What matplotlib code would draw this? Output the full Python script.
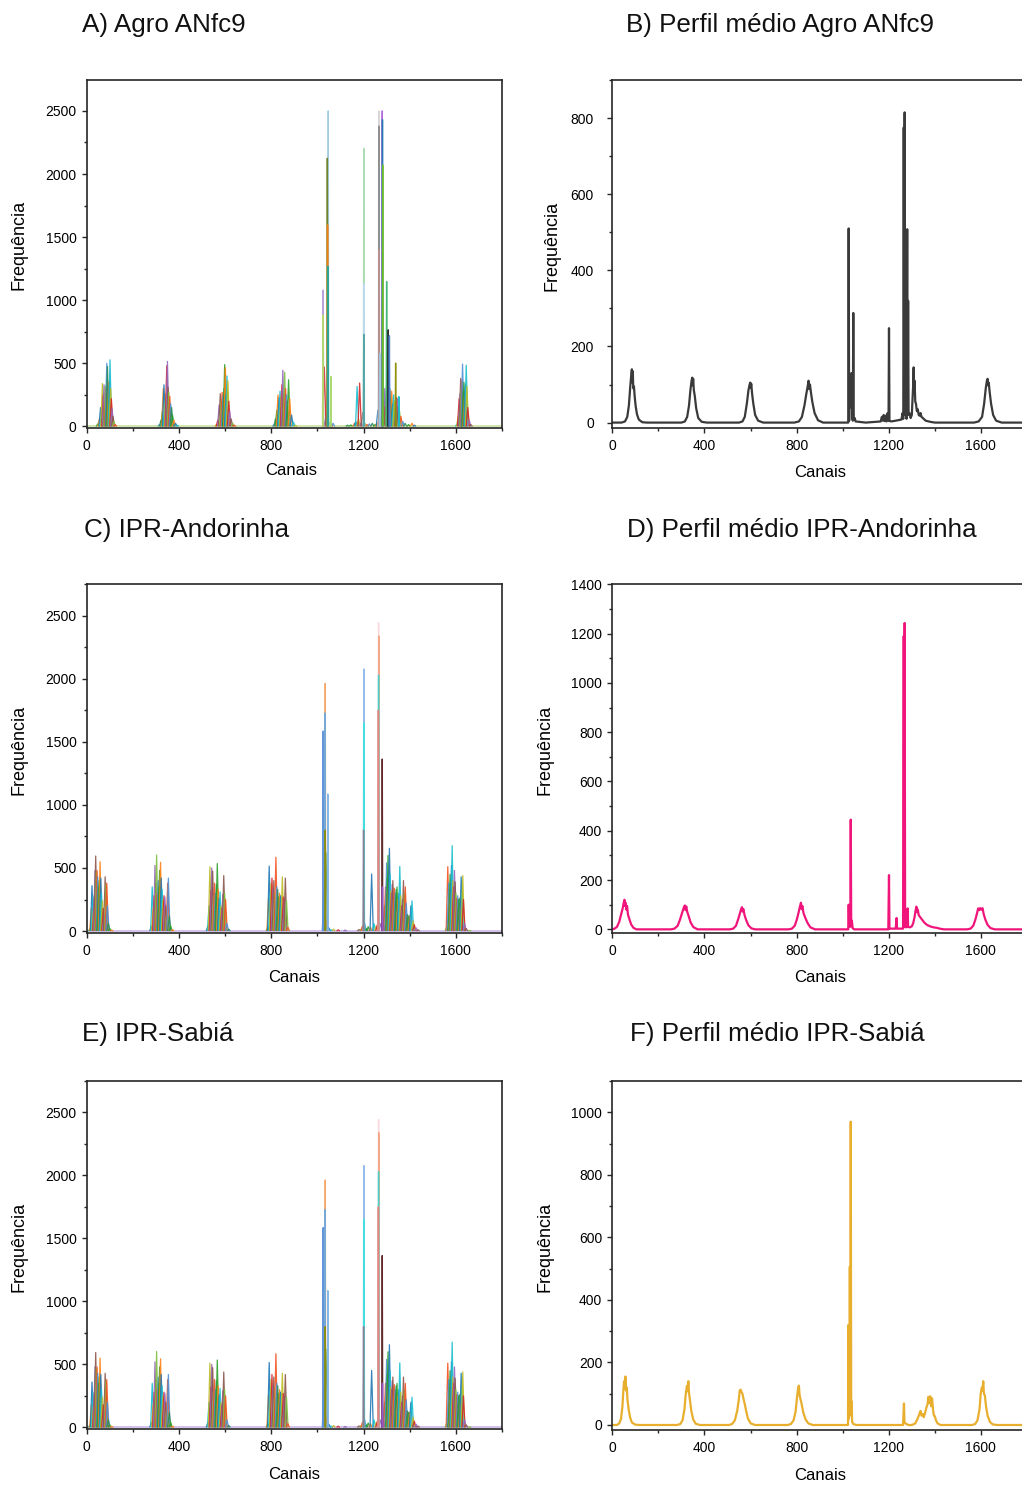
import matplotlib
matplotlib.use("Agg")
import matplotlib.pyplot as plt
from matplotlib.collections import LineCollection
from matplotlib.ticker import MultipleLocator

plt.rcParams["font.family"] = ["Liberation Sans", "DejaVu Sans"]

# ============================================================== Data
# (channel, frequency) spikes of the overlaid individual spectra

agro_spikes = [
    (48, 20), (55, 60), (60, 150), (64, 120), (68, 340), (72, 250), (75, 330), (78, 180),
    (81, 320), (84, 300), (87, 500), (90, 475), (93, 260), (96, 350), (99, 360), (101, 528),
    (104, 300), (107, 220), (110, 140), (114, 80), (118, 40), (124, 15),
    (315, 15), (322, 50), (328, 120), (332, 300), (335, 330), (339, 200), (343, 260), (347, 480),
    (350, 515), (353, 310), (356, 270), (360, 240), (364, 180), (368, 150), (372, 90), (378, 50),
    (385, 25), (392, 10),
    (562, 15), (568, 50), (574, 170), (579, 260), (583, 200), (587, 270), (591, 240), (595, 300),
    (598, 490), (601, 465), (604, 250), (608, 400), (612, 360), (616, 200), (620, 120), (626, 60),
    (633, 25), (640, 10),
    (812, 15), (818, 60), (824, 130), (829, 250), (834, 230), (838, 280), (842, 240), (846, 330),
    (850, 445), (854, 260), (858, 430), (862, 300), (866, 250), (870, 200), (875, 370), (880, 220),
    (888, 90), (896, 35), (905, 10),
    (1030, 470), (1035, 60), (1040, 100), (1052, 30), (1060, 15), (1068, 25), (1130, 10),
    (1145, 12), (1160, 25), (1166, 40), (1172, 317), (1178, 60), (1183, 344), (1190, 30),
    (1196, 110), (1206, 25), (1215, 15), (1225, 20), (1238, 25), (1250, 15), (1258, 30),
    (1262, 130), (1273, 60), (1277, 80), (1288, 200), (1292, 300), (1296, 150), (1303, 600),
    (1305, 250), (1309, 450), (1314, 300), (1318, 220), (1322, 280), (1326, 180), (1330, 250),
    (1334, 200), (1343, 230), (1347, 220), (1351, 160), (1356, 120), (1362, 80), (1370, 40),
    (1380, 25), (1395, 15), (1410, 25), (1420, 10),
    (1605, 20), (1610, 80), (1614, 220), (1618, 260), (1621, 380), (1624, 300), (1627, 370),
    (1629, 494), (1632, 280), (1635, 350), (1638, 240), (1641, 330), (1645, 485), (1648, 320),
    (1652, 150), (1658, 50), (1665, 15),
]
agro_tall = [
    (1025, 1080), (1024, 880), (1047, 2500), (1043, 2125), (1044, 1597), (1045, 1270),
    (1058, 396), (1201, 2204), (1202, 1130), (1201, 730), (1266, 2500), (1267, 2380),
    (1268, 1400), (1270, 580), (1281, 2500), (1282, 2430), (1283, 2072), (1300, 1148),
    (1307, 765), (1312, 718), (1339, 502), (1353, 236),
]

# IPR-Andorinha and IPR-Sabiá panels show the same overlaid spectra
ipr_spikes = [
    (15, 20), (20, 180), (23, 360), (27, 280), (30, 180), (33, 270), (36, 480), (39, 595),
    (42, 470), (45, 480), (48, 430), (51, 350), (54, 400), (58, 550), (61, 420), (64, 300),
    (68, 240), (72, 180), (76, 130), (80, 430), (84, 370), (87, 380), (90, 200), (94, 60),
    (100, 20), (108, 8),
    (280, 40), (284, 350), (288, 180), (292, 280), (296, 520), (300, 380), (303, 603), (306, 300),
    (310, 400), (313, 350), (316, 480), (320, 545), (323, 420), (327, 330), (331, 250), (335, 280),
    (339, 270), (343, 200), (347, 160), (351, 380), (354, 420), (358, 120), (364, 40), (372, 10),
    (525, 40), (530, 200), (534, 510), (538, 320), (542, 500), (546, 475), (550, 280), (554, 380),
    (558, 300), (562, 370), (566, 535), (570, 330), (574, 260), (578, 310), (582, 200), (586, 180),
    (590, 290), (594, 440), (598, 300), (602, 250), (608, 60), (616, 15),
    (785, 30), (788, 260), (791, 515), (795, 300), (799, 380), (803, 420), (807, 330), (811, 400),
    (815, 300), (820, 585), (824, 350), (828, 330), (832, 270), (836, 300), (840, 280), (844, 260),
    (848, 430), (852, 270), (857, 250), (861, 420), (866, 240), (872, 30),
    (1028, 320), (1031, 300), (1037, 620), (1040, 80), (1050, 25), (1060, 10), (1070, 15),
    (1090, 10), (1120, 8), (1180, 12), (1190, 15), (1195, 40), (1205, 60), (1212, 20),
    (1220, 35), (1230, 30), (1235, 452), (1245, 60), (1255, 40), (1260, 50), (1272, 60),
    (1285, 80), (1290, 200), (1295, 350), (1300, 540), (1303, 420), (1306, 600), (1309, 380),
    (1312, 656), (1315, 450), (1318, 320), (1321, 300), (1324, 370), (1327, 400), (1330, 250),
    (1333, 340), (1337, 300), (1341, 330), (1345, 350), (1349, 250), (1353, 300), (1357, 512),
    (1361, 280), (1365, 200), (1369, 250), (1373, 400), (1377, 300), (1381, 350), (1385, 220),
    (1390, 130), (1395, 120), (1400, 120), (1405, 200), (1410, 240), (1415, 80), (1420, 50),
    (1428, 25), (1436, 10),
    (1560, 30), (1565, 510), (1569, 380), (1572, 200), (1575, 450), (1578, 300), (1581, 520),
    (1584, 677), (1587, 400), (1590, 350), (1594, 480), (1597, 390), (1600, 300), (1604, 260),
    (1608, 280), (1612, 250), (1616, 260), (1620, 200), (1623, 430), (1627, 300), (1630, 440),
    (1633, 250), (1638, 60), (1645, 20), (1660, 5),
]
ipr_tall = [
    (1025, 1586), (1034, 1964), (1033, 1729), (1034, 800), (1045, 1086), (1201, 2078),
    (1202, 1650), (1200, 800), (1265, 2445), (1266, 2340), (1265, 2030), (1264, 1750),
    (1281, 1364), (1282, 350),
]

baseline_ch = [0, 1800]
baseline_val = [0, 0]

# mean profiles, (channel, frequency)
agro_mean = [
    (0, 0), (40, 0), (55, 3), (65, 15), (72, 45), (78, 95), (83, 130), (85, 140), (87, 105),
    (89, 135), (91, 90), (94, 95), (97, 70), (101, 45), (107, 22), (115, 8), (130, 1), (150, 0),
    (300, 0), (315, 3), (325, 15), (333, 45), (339, 85), (344, 110), (347, 118), (349, 98),
    (351, 115), (354, 85), (358, 70), (364, 38), (373, 12), (388, 2), (410, 0),
    (550, 0), (565, 3), (575, 15), (584, 50), (591, 85), (596, 100), (599, 105), (601, 92),
    (603, 102), (607, 75), (612, 50), (620, 20), (633, 5), (655, 0),
    (790, 0), (810, 3), (823, 15), (834, 45), (842, 75), (848, 95), (852, 110), (855, 88),
    (858, 100), (862, 80), (868, 55), (878, 25), (893, 6), (915, 0),
    (1018, 0), (1024, 0), (1026, 510), (1028, 5), (1030, 100), (1032, 60), (1034, 95),
    (1036, 40), (1038, 130), (1040, 95), (1042, 10), (1044, 5), (1046, 288), (1048, 8),
    (1052, 12), (1056, 3), (1070, 2), (1100, 0), (1140, 2), (1165, 3), (1170, 15), (1174, 5),
    (1178, 20), (1182, 4), (1186, 18), (1190, 3), (1195, 25), (1199, 5), (1201, 248),
    (1203, 5), (1210, 3), (1230, 5), (1255, 8), (1260, 25), (1263, 10), (1265, 775),
    (1267, 20), (1269, 815), (1271, 30), (1274, 25), (1277, 10), (1280, 508), (1282, 25),
    (1284, 320), (1286, 20), (1290, 25), (1295, 12), (1300, 20), (1303, 60), (1306, 100),
    (1308, 145), (1310, 80), (1312, 110), (1315, 55), (1318, 50), (1322, 30), (1326, 35),
    (1330, 20), (1334, 18), (1338, 25), (1342, 15), (1348, 12), (1360, 5), (1380, 2), (1400, 0),
    (1570, 0), (1590, 3), (1605, 15), (1614, 50), (1621, 90), (1626, 110), (1629, 115),
    (1631, 98), (1634, 105), (1638, 80), (1644, 50), (1653, 20), (1666, 5), (1690, 0), (1800, 0),
]
andorinha_mean = [
    (0, 0), (10, 3), (20, 10), (30, 30), (38, 60), (45, 85), (50, 110), (53, 120), (55, 95),
    (58, 108), (61, 80), (64, 95), (68, 60), (74, 42), (82, 20), (92, 6), (105, 0),
    (255, 0), (270, 3), (284, 15), (294, 40), (304, 70), (311, 90), (315, 97), (318, 78),
    (321, 93), (325, 72), (331, 55), (340, 28), (352, 9), (370, 0),
    (510, 0), (525, 3), (537, 15), (546, 40), (554, 65), (559, 82), (563, 90), (566, 72),
    (569, 82), (574, 58), (581, 38), (591, 16), (604, 4), (620, 0),
    (765, 0), (780, 3), (792, 15), (801, 40), (809, 70), (815, 95), (819, 108), (822, 82),
    (825, 95), (830, 66), (838, 46), (848, 25), (860, 8), (880, 0),
    (1015, 0), (1024, 0), (1026, 100), (1028, 20), (1030, 35), (1033, 10), (1035, 445),
    (1037, 20), (1040, 35), (1043, 5), (1050, 0), (1198, 0), (1201, 220), (1203, 3),
    (1230, 3), (1234, 46), (1236, 3), (1262, 3), (1265, 1190), (1267, 10), (1269, 1243),
    (1271, 12), (1275, 8), (1279, 15), (1282, 85), (1284, 10), (1290, 8), (1300, 12),
    (1306, 25), (1312, 50), (1316, 75), (1320, 92), (1323, 70), (1326, 80), (1330, 58),
    (1336, 50), (1344, 40), (1354, 28), (1366, 18), (1380, 12), (1395, 8), (1410, 6),
    (1420, 3), (1440, 0),
    (1540, 0), (1555, 3), (1567, 15), (1576, 40), (1583, 65), (1588, 85), (1593, 78),
    (1597, 86), (1602, 80), (1607, 86), (1612, 62), (1619, 40), (1629, 18), (1642, 5),
    (1660, 0), (1800, 0),
]
sabia_mean = [
    (0, 0), (20, 0), (30, 5), (38, 20), (44, 60), (48, 110), (51, 140), (54, 115), (57, 155),
    (60, 110), (63, 120), (66, 80), (71, 50), (77, 25), (85, 8), (100, 1), (120, 0),
    (280, 0), (295, 3), (305, 15), (313, 50), (319, 100), (324, 125), (327, 108), (330, 140),
    (333, 102), (337, 80), (343, 45), (351, 18), (362, 4), (380, 0),
    (505, 0), (520, 3), (532, 15), (542, 45), (549, 80), (553, 110), (557, 113), (561, 105),
    (565, 100), (569, 85), (574, 70), (581, 45), (589, 20), (601, 5), (620, 0),
    (760, 0), (775, 3), (787, 15), (796, 45), (802, 90), (807, 120), (810, 126), (813, 95),
    (816, 85), (821, 70), (829, 40), (839, 18), (851, 5), (870, 0),
    (1015, 0), (1023, 0), (1025, 320), (1027, 20), (1029, 60), (1031, 506), (1033, 80),
    (1035, 970), (1037, 30), (1039, 75), (1041, 10), (1046, 3), (1060, 0), (1262, 0),
    (1266, 69), (1268, 10), (1272, 5), (1285, 0),
    (1300, 0), (1315, 5), (1325, 20), (1333, 35), (1338, 45), (1342, 30), (1348, 35),
    (1352, 25), (1358, 40), (1363, 55), (1368, 65), (1372, 90), (1376, 70), (1380, 92),
    (1384, 60), (1388, 85), (1392, 50), (1396, 30), (1400, 28), (1405, 15), (1412, 5),
    (1425, 0),
    (1560, 0), (1575, 3), (1585, 15), (1594, 50), (1599, 100), (1604, 120), (1607, 110),
    (1610, 140), (1613, 100), (1617, 95), (1622, 60), (1629, 30), (1639, 10), (1651, 2),
    (1670, 0), (1800, 0),
]

titles = ["A) Agro ANfc9", "B) Perfil médio Agro ANfc9",
          "C) IPR-Andorinha", "D) Perfil médio IPR-Andorinha",
          "E) IPR-Sabiá", "F) Perfil médio IPR-Sabiá"]

# ============================================================== Style

PALETTE = ["#2ca02c", "#ff7f0e", "#1f77b4", "#17becf", "#bcbd22", "#d62728",
           "#9467bd", "#8c564b", "#7fbf3f", "#f4511e", "#4e8fd6", "#2e8b57"]
agro_tall_colors = ["#b39ddb", "#b5d96a", "#9ecae1", "#6b7f1f", "#ff7f0e", "#26a69a",
                    "#a6d96a", "#a8dbb0", "#bfd9f2", "#4fa3a5", "#d5d5d5", "#8c8c8c",
                    "#bc8f8f", "#9ecae1", "#b266e0", "#1f77b4", "#6cbf20", "#3cb371",
                    "#222222", "#4a7fd4", "#8b8b00", "#17becf"]
ipr_tall_colors = ["#5b8fd9", "#f4a261", "#6fa8dc", "#8b8b00", "#7fb3e6", "#8fb8ea",
                   "#40e0e0", "#8c7b8b", "#f8d7dc", "#f4a582", "#48d1cc", "#f08080",
                   "#5a1e1e", "#9b59d6"]
SPINE = "#262626"
HALF_W = 7      # half base width of a cluster spike, in channels
TALL_HALF_W = 2

W, H = 1022, 1486
fig = plt.figure(figsize=(W / 100, H / 100), dpi=100)


def px_axes(left, top, bottom, width_px):
    return fig.add_axes([left / W, 1 - bottom / H, width_px / W, (bottom - top) / H])


def style(ax, ylim, ymaj, ymin, ypad, ylab_x, xlab_y, xlab_x=0.5):
    ax.set_xlim(0, 1800)
    ax.set_ylim(*ylim)
    ax.xaxis.set_major_locator(MultipleLocator(400))
    ax.xaxis.set_minor_locator(MultipleLocator(200))
    ax.yaxis.set_major_locator(MultipleLocator(ymaj))
    ax.yaxis.set_minor_locator(MultipleLocator(ymin))
    ax.tick_params(which="both", direction="out", top=False, right=False,
                   color=SPINE, width=1.0)
    ax.tick_params(which="major", length=3.8, labelsize=10)
    ax.tick_params(which="minor", length=2.4)
    ax.tick_params(axis="y", which="major", pad=ypad)
    ax.tick_params(axis="x", which="major", pad=4)
    for s in ax.spines.values():
        s.set_color(SPINE)
        s.set_linewidth(1.2)
    ax.set_xlabel("Canais", fontsize=12)
    ax.set_ylabel("Frequência", fontsize=13, va="center")
    ax.xaxis.set_label_coords(xlab_x, xlab_y)
    ax.yaxis.set_label_coords(ylab_x, 0.525)
    ax.xaxis.label.set_va("center")


def spike_segments(spikes, hw):
    return [[(c - hw, 0), (c, h), (c + hw, 0)] for c, h in spikes]


def draw_overlay(ax, spikes, tall, tall_colors, base_color):
    ax.plot(baseline_ch, baseline_val, color=base_color, lw=1.2, zorder=1)
    cols = [PALETTE[i % len(PALETTE)] for i in range(len(spikes))]
    ax.add_collection(LineCollection(spike_segments(spikes, HALF_W), colors=cols,
                                     linewidths=0.9, alpha=0.9, zorder=2))
    ax.add_collection(LineCollection(spike_segments(tall, TALL_HALF_W), colors=tall_colors,
                                     linewidths=1.0, alpha=0.95, zorder=3))


def draw_mean(ax, profile, color):
    ch = [c for c, _ in profile]
    v = [x for _, x in profile]
    ax.plot(ch, v, color=color, lw=1.6, zorder=2)


# ============================================================== Panels

ax_a = px_axes(86.7, 80, 427.7, 415.3)
draw_overlay(ax_a, agro_spikes, agro_tall, agro_tall_colors, "#c9e3a0")
style(ax_a, (-10, 2745), 500, 250, 3.5, -0.162, -0.122, 0.492)

ax_b = px_axes(612.3, 80, 428.3, 414.7)
draw_mean(ax_b, agro_mean, "#3a3a3a")
style(ax_b, (-15, 900), 200, 100, 9.5, -0.145, -0.128)

ax_c = px_axes(86.7, 584.3, 933.3, 415.3)
draw_overlay(ax_c, ipr_spikes, ipr_tall, ipr_tall_colors, "#cbb8e6")
style(ax_c, (-18, 2750), 500, 250, 3.5, -0.162, -0.128)

ax_d = px_axes(612.3, 584.3, 933.3, 414.7)
draw_mean(ax_d, andorinha_mean, "#f0157a")
style(ax_d, (-16, 1400), 200, 100, 3.5, -0.162, -0.128)

ax_e = px_axes(86.7, 1081, 1429.3, 415.3)
draw_overlay(ax_e, ipr_spikes, ipr_tall, ipr_tall_colors, "#cbb8e6")
style(ax_e, (-15, 2750), 500, 250, 3.5, -0.162, -0.131)

ax_f = px_axes(612.3, 1081, 1430, 414.7)
draw_mean(ax_f, sabia_mean, "#e8ae2e")
style(ax_f, (-16, 1100), 200, 100, 3.5, -0.162, -0.129)

title_pos = [(82, 31.7), (626, 31.7), (84, 536.5), (627, 536.5), (82, 1041.5), (630, 1041.5)]
for txt, (x, y) in zip(titles, title_pos):
    fig.text(x / W, 1 - y / H, txt, fontsize=18.7, ha="left", va="baseline", color="#111111")

fig.savefig("out.png", dpi=100)
